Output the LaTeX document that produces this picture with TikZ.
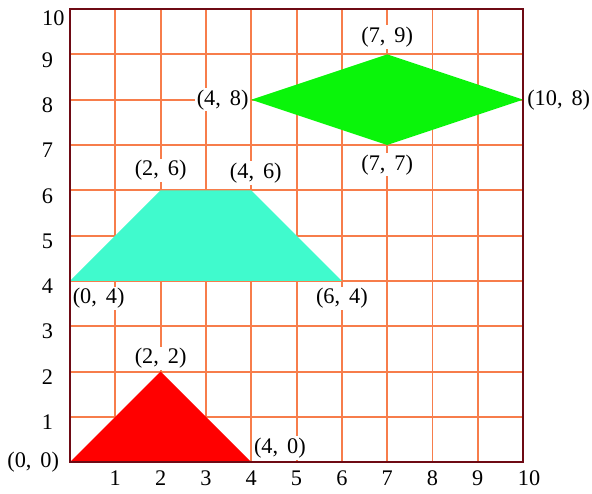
\documentclass[tikz,border=0pt]{standalone}
\usepackage{fontspec}
\setmainfont{Liberation Serif}[WordSpace=1.6]
\definecolor{gridorange}{RGB}{247,125,75}
\definecolor{framered}{RGB}{110,10,20}
\definecolor{trired}{RGB}{255,0,0}
\definecolor{trapcyan}{RGB}{64,250,205}
\definecolor{diagreen}{RGB}{10,245,10}
\usetikzlibrary{positioning}

\begin{document}
\begin{tikzpicture}[
  gridline/.style={gridorange,line width=1.2pt},
  frameline/.style={framered,line width=1.6pt},
  pt/.style={fill=white,inner sep=1pt,font=\fontsize{14}{16}\selectfont},
  ticklabel/.style={inner sep=1pt,font=\fontsize{14}{16}\selectfont}
]
\useasboundingbox (-1.545,-0.684) rectangle (11.52,10.2);
% grid
\foreach \k in {1,...,9} {
  \draw[gridline] (\k,0) -- (\k,10);
  \draw[gridline] (0,\k) -- (10,\k);
}
% corner points
\coordinate (t1) at (0,0);
\coordinate (t2) at (4,0);
\coordinate (t3) at (2,2);
\coordinate (q1) at (0,4);
\coordinate (q2) at (6,4);
\coordinate (q3) at (4,6);
\coordinate (q4) at (2,6);
\coordinate (d1) at (4,8);
\coordinate (d2) at (7,9);
\coordinate (d3) at (10,8);
\coordinate (d4) at (7,7);
% shapes
\fill[trired] (t1) -- (t2) -- (t3) -- cycle;
\fill[trapcyan] (q1) -- (q2) -- (q3) -- (q4) -- cycle;
\fill[diagreen] (d1) -- (d2) -- (d3) -- (d4) -- cycle;
\draw[frameline] (0,0) rectangle (10,10);
% axis numbers
\foreach \k in {1,...,9} {
  \node[ticklabel,anchor=east] (y\k) at (-0.33,\k-0.12) {\k};
  \node[ticklabel] (x\k) at (\k,-0.36) {\k};
}
\node[ticklabel,anchor=east] (y10) at (-0.08,9.8) {10};
\node[ticklabel] (x10) at (10.13,-0.36) {10};
% point labels
\node[pt,left=0.2 of t1] (lt1) {(0, 0)};
\node[pt,above right=0.05 and 0.02 of t2] (lt2) {(4, 0)};
\node[pt,above=0.02 of t3] (lt3) {(2, 2)};
\node[pt,below right=0.12 and 0.02 of q1] (lq1) {(0, 4)};
\node[pt,below=0.12 of q2] (lq2) {(6, 4)};
\node[pt,above=0.12 of q3,xshift=0.1cm] (lq3) {(4, 6)};
\node[pt,above=0.17 of q4] (lq4) {(2, 6)};
\node[pt,left=0.02 of d1] (ld1) {(4, 8)};
\node[pt,above=0.12 of d2] (ld2) {(7, 9)};
\node[pt,right=0.05 of d3] (ld3) {(10, 8)};
\node[pt,below=0.17 of d4] (ld4) {(7, 7)};
\end{tikzpicture}
\end{document}
